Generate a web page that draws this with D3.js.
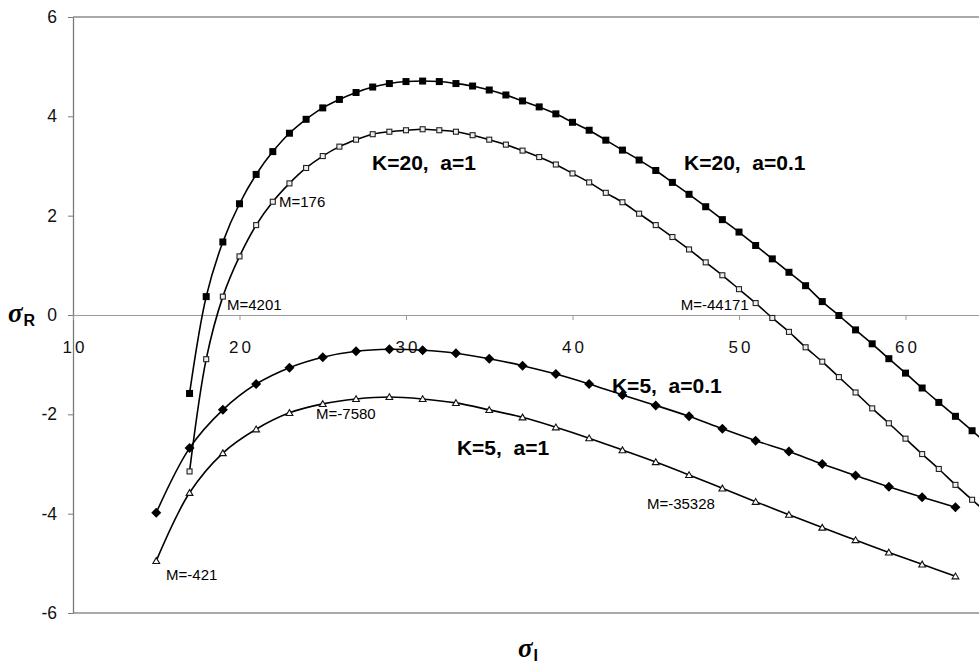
<!DOCTYPE html>
<html>
<head>
<meta charset="utf-8">
<script src="https://cdn.jsdelivr.net/npm/d3@7"></script>
<style>
  body { margin: 0; background: #fff; }
  svg { display: block; }
  text { font-family: "Liberation Sans", Arial, sans-serif; }
</style>
</head>
<body>
<svg></svg>
<script>
// sigma_I values, one per marker
var xK20 = [17, 18, 19, 20, 21, 22, 23, 24, 25, 26, 27, 28, 29, 30, 31, 32, 33, 34, 35, 36, 37, 38, 39, 40, 41,
            42, 43, 44, 45, 46, 47, 48, 49, 50, 51, 52, 53, 54, 55, 56, 57, 58, 59, 60, 61, 62, 63, 64, 65];
var xK5 = [15, 17, 19, 21, 23, 25, 27, 29, 31, 33, 35, 37, 39, 41, 43, 45, 47, 49, 51, 53, 55, 57, 59, 61, 63];

// sigma_R values
var yK20a01 = [-1.58, 0.37, 1.47, 2.24, 2.83, 3.29, 3.66, 3.94, 4.17, 4.34, 4.48, 4.59, 4.66, 4.70, 4.71, 4.70,
               4.66, 4.61, 4.53, 4.43, 4.31, 4.19, 4.05, 3.88, 3.72, 3.52, 3.32, 3.12, 2.91, 2.67, 2.43, 2.18,
               1.92, 1.67, 1.40, 1.13, 0.86, 0.59, 0.27, -0.01, -0.30, -0.58, -0.88, -1.17, -1.47, -1.76, -2.04, -2.33, -2.62];
var yK20a1 = [-3.15, -0.89, 0.37, 1.18, 1.81, 2.28, 2.65, 2.96, 3.20, 3.39, 3.53, 3.64, 3.69, 3.72, 3.74, 3.72,
              3.69, 3.62, 3.53, 3.43, 3.31, 3.18, 3.03, 2.85, 2.67, 2.46, 2.27, 2.04, 1.81, 1.57, 1.32, 1.06,
              0.80, 0.52, 0.24, -0.06, -0.34, -0.65, -0.94, -1.25, -1.56, -1.88, -2.18, -2.49, -2.80, -3.10, -3.42, -3.72, -4.02];
var yK5a01 = [-3.98, -2.68, -1.91, -1.39, -1.06, -0.85, -0.73, -0.69, -0.71, -0.77, -0.88, -1.02, -1.19,
              -1.39, -1.61, -1.82, -2.04, -2.29, -2.53, -2.75, -3.00, -3.23, -3.46, -3.67, -3.87];
var yK5a1 = [-4.95, -3.58, -2.78, -2.30, -1.97, -1.79, -1.69, -1.65, -1.69, -1.77, -1.91, -2.06, -2.26,
             -2.48, -2.72, -2.96, -3.22, -3.49, -3.76, -4.02, -4.28, -4.53, -4.78, -5.02, -5.26];

var xTicks = [10, 20, 30, 40, 50, 60];
var yTicks = [-6, -4, -2, 0, 2, 4, 6];

// curve names and M values, placed in data units
var curveLabels = [
    { text: "K=20,  a=1", x: 27.96, y: 3.07 },
    { text: "K=20,  a=0.1", x: 46.7, y: 3.07 },
    { text: "K=5,  a=0.1", x: 42.37, y: -1.41 },
    { text: "K=5,  a=1", x: 33.06, y: -2.66 }
];
var mLabels = [
    { text: "M=176", x: 22.37, y: 2.28 },
    { text: "M=4201", x: 19.25, y: 0.21 },
    { text: "M=-44171", x: 46.5, y: 0.21 },
    { text: "M=-7580", x: 24.6, y: -1.98 },
    { text: "M=-35328", x: 44.47, y: -3.79 },
    { text: "M=-421", x: 15.59, y: -5.22 }
];

var width = 979, height = 665;

var svg = d3.select("svg")
    .attr("width", width)
    .attr("height", height);

var x = d3.scaleLinear().domain([10, 70]).range([73, 1072]);
var y = d3.scaleLinear().domain([-6, 6]).range([613, 17]);

// plot frame (right side runs off the page)
svg.append("line")
    .attr("x1", x(10)).attr("x2", width).attr("y1", y(6)).attr("y2", y(6))
    .attr("stroke", "#8c8c8c").attr("stroke-width", 1.3);
svg.append("line")
    .attr("x1", x(10)).attr("x2", width).attr("y1", y(-6)).attr("y2", y(-6))
    .attr("stroke", "#8c8c8c").attr("stroke-width", 1.3);

// y axis
var yAxis = svg.append("g")
    .attr("transform", "translate(" + x(10) + ",0)")
    .call(d3.axisLeft(y).tickValues(yTicks).tickSize(5).tickSizeOuter(0).tickPadding(11)
        .tickFormat(function (d) { return d < 0 ? "-" + Math.abs(d) : d; }));
yAxis.select(".domain").attr("stroke", "#7a7a7a").attr("stroke-width", 1.3);
yAxis.selectAll(".tick line").attr("stroke", "#7a7a7a");
yAxis.selectAll("text").attr("font-size", 17.5).attr("fill", "#111")
    .style("font-family", "'Liberation Sans', Arial, sans-serif");

// x axis along sigma_R = 0
var xAxis = svg.append("g")
    .attr("transform", "translate(0," + y(0) + ")")
    .call(d3.axisBottom(x).tickValues(xTicks).tickSize(5).tickSizeOuter(0).tickPadding(21));
xAxis.select(".domain").attr("stroke", "#9a9a9a").attr("stroke-width", 1.2);
xAxis.selectAll(".tick line").attr("stroke", "#9a9a9a");
xAxis.selectAll("text").attr("font-size", 17).attr("fill", "#111")
    .attr("dx", 1.5)
    .style("letter-spacing", "3px")
    .style("font-family", "'Liberation Sans', Arial, sans-serif");

var line = d3.line()
    .x(function (d) { return x(d[0]); })
    .y(function (d) { return y(d[1]); })
    .curve(d3.curveCatmullRom.alpha(0.5));

var series = [
    { xs: xK20, ys: yK20a01, marker: "filled" },
    { xs: xK20, ys: yK20a1, marker: "open" },
    { xs: xK5, ys: yK5a01, marker: "diamond" },
    { xs: xK5, ys: yK5a1, marker: "triangle" }
];

series.forEach(function (s) {
    var pts = s.xs.map(function (v, i) { return [v, s.ys[i]]; });

    svg.append("path")
        .datum(pts)
        .attr("fill", "none")
        .attr("stroke", "#000")
        .attr("stroke-width", 1.6)
        .attr("d", line);

    var g = svg.append("g");
    if (s.marker == "filled") {
        g.selectAll("rect").data(pts).enter().append("rect")
            .attr("x", function (d) { return x(d[0]) - 3.5; })
            .attr("y", function (d) { return y(d[1]) - 3.5; })
            .attr("width", 7).attr("height", 7)
            .attr("fill", "#000");
    } else if (s.marker == "open") {
        g.selectAll("rect").data(pts).enter().append("rect")
            .attr("x", function (d) { return x(d[0]) - 2.5; })
            .attr("y", function (d) { return y(d[1]) - 2.5; })
            .attr("width", 5).attr("height", 5)
            .attr("fill", "#eee").attr("stroke", "#222").attr("stroke-width", 1.1);
    } else if (s.marker == "diamond") {
        g.selectAll("path").data(pts).enter().append("path")
            .attr("transform", function (d) { return "translate(" + x(d[0]) + "," + y(d[1]) + ")"; })
            .attr("d", "M0,-5L5,0L0,5L-5,0Z")
            .attr("fill", "#000");
    } else {
        g.selectAll("path").data(pts).enter().append("path")
            .attr("transform", function (d) { return "translate(" + x(d[0]) + "," + y(d[1]) + ")"; })
            .attr("d", "M0,-3.2L3.4,2.6L-3.4,2.6Z")
            .attr("fill", "#fff").attr("stroke", "#111").attr("stroke-width", 1.1);
    }
});

// curve names (keep the double space)
svg.selectAll(".curvelabel").data(curveLabels).enter().append("text")
    .attr("class", "curvelabel")
    .attr("x", function (d) { return x(d.x); })
    .attr("y", function (d) { return y(d.y); })
    .attr("dy", "0.36em")
    .attr("font-size", 21)
    .attr("font-weight", "bold")
    .text(function (d) { return d.text.replace("  ", "\u00a0\u00a0"); });

// M annotations
svg.selectAll(".mlabel").data(mLabels).enter().append("text")
    .attr("class", "mlabel")
    .attr("x", function (d) { return x(d.x); })
    .attr("y", function (d) { return y(d.y); })
    .attr("dy", "0.36em")
    .attr("font-size", 15)
    .text(function (d) { return d.text; });

// axis titles
var yTitle = svg.append("text")
    .attr("x", 8)
    .attr("y", 322);
yTitle.append("tspan")
    .style("font-family", "'Liberation Serif', 'Times New Roman', serif")
    .attr("font-style", "italic").attr("font-weight", "bold").attr("font-size", 27)
    .text("σ");
yTitle.append("tspan")
    .attr("font-weight", "bold").attr("font-size", 16).attr("dy", 4).attr("dx", 1)
    .text("R");

var xTitle = svg.append("text")
    .attr("x", 518)
    .attr("y", 657);
xTitle.append("tspan")
    .style("font-family", "'Liberation Serif', 'Times New Roman', serif")
    .attr("font-style", "italic").attr("font-weight", "bold").attr("font-size", 27)
    .text("σ");
xTitle.append("tspan")
    .attr("font-weight", "bold").attr("font-size", 16).attr("dy", 4).attr("dx", 1)
    .text("I");
</script>
</body>
</html>
